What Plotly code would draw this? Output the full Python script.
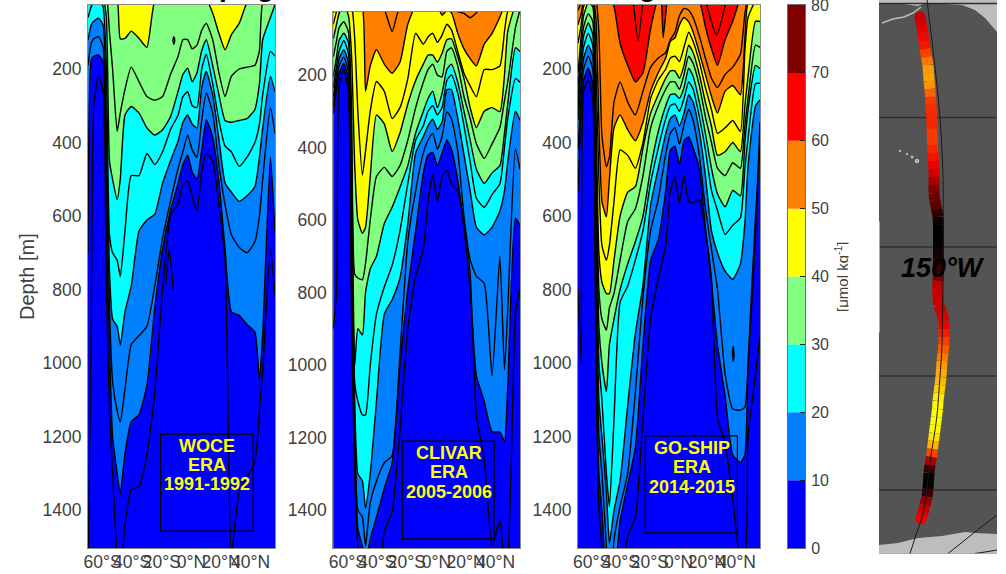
import plotly.graph_objects as go
from plotly.colors import sample_colorscale

W, H = 1006, 574

lats = [-69.8,-67.6,-65.9,-62.7,-59.6,-57.4,-55.3,-53.2,-50.1,-48,-44.8,-40.6,-35.3,-30,-24.7,-19.4,-14.1,-8.9,-5.7,-2.5,0.6,3.8,7,10.1,14.4,18.6,22.8,27,32.3,37.6,42.9,46,48.2,53.4,56.5]

# Depth [m] of each concentration isoline, by latitude
woce_05 = [1600,900,300,219,260,800,1120,1300,1530,1600,1440,1345,1335,1250,1080,800,600,565,515,505,547,585,480,430,450,570,720,1520,1350,1310,1270,1130,1020,690,815]
woce_10 = [700,175,165,162,180,650,950,1200,1300,1355,1245,1160,1140,1060,850,690,585,510,460,435,480,500,420,338,385,505,690,860,870,895,915,1046,920,440,647]
woce_15 = [190,130,118,112,140,500,850,1050,1130,1160,1070,950,925,900,790,660,560,470,425,380,420,440,340,265,320,460,570,650,685,700,670,600,500,305,375]
woce_20 = [121,80,70,62,80,350,750,880,900,951,860,790,640,611,595,510,450,395,345,325,350,360,250,207,270,390,510,535,560,545,520,440,360,220,262]
woce_25 = [60,30,15,10,30,200,650,700,720,765,640,490,490,430,460,425,365,325,275,262,300,305,200,160,240,340,410,425,465,440,400,350,270,152,165]
woce_30 = [15,10,8,5,10,60,450,500,555,500,325,302,320,360,380,365,330,260,215,198,235,210,150,120,190,270,340,345,340,335,310,240,120,60,25]
woce_35 = [5,5,5,5,5,5,100,200,370,320,255,195,235,275,285,275,215,165,120,120,145,135,95,76,120,210,275,220,200,195,190,150,20,5,3]
woce_40 = [5,5,5,5,5,5,5,5,10,118,117,97,117,141,15,5,5,5,5,5,5,5,5,10,48,103,148,107,76,20,5,5,5,5,5]

clivar_05 = [900,800,230,184,250,900,1300,1500,1600,1650,1650,1650,1460,1405,1180,900,755,680,545,476,549,480,462,500,520,610,750,1140,1260,1500,1430,1550,1530,860,788]
clivar_10 = [306,235,195,168,215,800,1200,1450,1500,1550,1480,1420,1340,1270,1000,790,630,470,420,414,450,415,379,405,490,620,790,1030,1100,1184,1185,1210,1060,595,615]
clivar_15 = [285,215,175,150,190,700,1150,1400,1420,1500,1380,1320,1270,1250,970,660,520,415,380,361,405,370,301,320,410,590,710,755,775,1030,700,1014,850,405,460]
clivar_20 = [260,195,155,130,165,600,1100,1300,1320,1395,1300,1100,860,820,760,610,415,370,340,322,350,330,240,240,320,420,520,620,641,620,575,520,440,300,325]
clivar_25 = [235,175,135,105,140,500,1050,1100,1138,1138,1000,860,785,725,630,500,380,340,300,285,310,290,215,200,250,340,440,540,565,530,500,400,320,210,220]
clivar_30 = [205,150,105,85,110,400,1000,900,917,800,735,700,610,565,510,450,360,300,265,245,290,250,185,170,220,300,380,460,499,470,450,360,280,125,135]
clivar_35 = [150,105,70,53,80,300,750,760,765,720,600,480,455,480,450,380,290,220,185,170,200,205,135,125,175,260,320,390,430,390,345,270,220,70,20]
clivar_40 = [100,60,30,10,35,150,450,600,637,620,480,310,335,411,360,280,215,170,145,145,165,140,103,100,150,210,290,345,300,290,301,200,80,10,5]
clivar_45 = [60,25,10,5,5,10,100,300,476,410,300,218,245,320,290,210,85,115,95,85,110,90,60,75,135,195,230,260,185,185,175,80,25,5,3]
clivar_50 = [28,8,5,5,5,5,8,10,15,245,175,130,170,195,165,60,10,10,10,10,10,35,22,28,85,128,155,175,115,85,40,10,5,5,3]
clivar_55 = [5,5,5,5,5,5,5,5,5,5,5,5,20,80,10,5,5,5,5,5,5,5,5,5,25,30,42,28,5,5,5,5,5,5,5]

goship_05 = [800,1000,260,230,280,1000,1400,1500,1650,1700,1700,1650,1470,1420,1150,878,770,680,530,495,565,490,560,565,555,640,770,1150,1220,1370,1530,1530,1200,1030,925]
goship_10 = [534,300,230,198,240,900,1300,1400,1600,1650,1600,1430,1330,1230,950,720,665,530,420,410,460,395,385,415,470,630,780,950,1090,1250,1270,1250,1000,600,411]
goship_15 = [420,270,200,165,200,800,1200,1300,1500,1650,1480,1390,1300,1080,820,640,555,430,375,360,405,350,310,340,435,580,690,800,1030,1125,1128,1120,1015,650,345]
goship_20 = [339,235,170,135,165,700,1100,1200,1350,1490,1400,1320,1115,920,788,570,470,375,335,325,355,320,270,290,370,490,640,700,750,772,730,620,465,300,284]
goship_25 = [310,200,140,103,135,600,1000,1100,1300,1391,1150,835,790,720,640,510,415,335,300,295,315,280,235,255,330,420,530,585,650,625,605,470,390,240,239]
goship_30 = [284,170,110,75,105,500,900,1000,1078,950,880,800,730,670,600,470,370,300,270,268,280,250,198,220,290,375,470,540,575,530,545,400,310,190,199]
goship_35 = [250,140,85,50,70,400,800,880,910,850,810,720,615,580,490,360,300,255,235,235,255,215,165,185,245,330,400,470,490,455,470,355,280,135,141]
goship_40 = [212,110,55,20,30,300,700,780,811,811,720,600,535,520,415,320,270,225,205,205,225,190,135,155,215,290,355,435,425,400,425,300,220,70,71]
goship_45 = [130,80,30,8,10,180,500,680,720,680,560,420,435,470,400,280,230,200,170,165,180,140,100,125,180,250,310,375,360,340,370,150,60,15,12]
goship_50 = [80,50,15,5,5,60,350,560,602,500,360,325,365,395,345,260,210,170,125,115,80,60,72,100,155,215,275,320,260,245,270,120,20,10,8]
goship_55 = [40,20,5,5,3,10,100,380,466,440,290,235,290,325,260,195,170,155,120,100,55,35,40,60,110,170,225,250,215,195,160,50,8,5,3]
goship_60 = [5,5,5,5,5,5,5,5,5,5,30,130,190,235,210,90,10,10,10,10,10,10,10,10,15,85,145,190,120,70,10,5,5,5,5]

# Small separate contour pieces: latitudes, depths
woce_oval_lat = [-12.46,-11.82,-11.19,-11.82,-12.46]
woce_oval_dep = [122,112,122,133,122]
woce_lobe_lat = [-17.4,-15,-12.2]
woce_lobe_dep = [790,692,800]
goship_oval_lat = [37.4,37.9,38.45,37.9,37.4]
goship_oval_dep = [975,955,975,995,975]
goship_strip_lat = [-11.8,-10.7,-7.9]
goship_strip_dep = [10,115,10]
goship_lobe1_lat = [-31.6,-28.1,-24.6]
goship_lobe1_dep = [10,123,10]
goship_lobe2_lat = [18.4,26.4,33.3]
goship_lobe2_dep = [10,108,10]

x_tick_vals = [-60,-40,-20,0,20,40]
x_tick_text = ["60°S","40°S","20°S","0°N","20°N","40°N"]
y_tick_vals = [200,400,600,800,1000,1200,1400]

fill_colors = {10:"#0080ff",20:"#00ffff",30:"#80ff80",40:"#ffff00",50:"#ff8000",60:"#ff0000"}

cb_base = [0,10,20,30,40,50,60,70]
cb_height = [10,10,10,10,10,10,10,10]
cb_colors = ["#0000ff","#0080ff","#00ffff","#80ff80","#ffff00","#ff8000","#ff0000","#800000"]
cb_ticks = [0,10,20,30,40,50,60,70,80]

# Map panel
land_n_x = [879,997,997,985,975,962,935,925,918,900,879]
land_n_y = [0,0,32,18,10,5,3.5,3.5,6,3.5,3.5]
spit_x = [882,893,904,913,921]
spit_y = [23,19,17,13,7]
land_s_x = [879,898,918,942,965,975,997,997,879]
land_s_y = [545,543,538,536,532,533,534,553.5,553.5]
isle_x = [900,907,912,917]
isle_y = [151,154,157,161]
parallels = [3.5,117.5,247,376,490]
track_y = [17,25,33,41,49,57,65,73,81,89,97,105,113,121,129,137,145,153,161,169,177,185,193,201,209,217,225,233,241,249,257,265,273,281,289,297,305,313,321,329,337,345,353,361,369,377,385,393,401,409,417,425,433,441,449,457,465,473,481,489,497,505,513,519]
track_x = [920,921.5,923,924,925,926.5,928,928.5,929,930,930.5,931,931.5,932,932,932.5,932.5,933,933.5,934,934,934,934,935,936.5,938,938.5,938.5,938.5,938.5,938.5,938.5,938.5,938,937.5,938,938.5,942,944,944,944,944,943,942,941.5,941,940,939,938,937.5,936.5,935.5,934.5,933.5,932.5,931.5,930,929,928.5,928,927,925,923,921]
track_v = [.42,.45,.5,.52,.56,.66,.75,.8,.78,.72,.62,.58,.58,.56,.58,.62,.58,.55,.52,.47,.38,.28,.22,.2,.15,.05,0,0,0,.03,.06,.08,.15,.35,.42,.42,.42,.42,.48,.52,.58,.64,.68,.74,.8,.82,.86,.92,.97,1,1,1,.97,.9,.75,.5,.2,.02,0,.02,.2,.4,.42,.5]
track_scale = [[0,"#000000"],[.25,"#800000"],[.5,"#f00000"],[.75,"#ff9000"],[1,"#ffff00"]]
meridian_x = [927,930,935,940,942.7,943.3,942.7,941.7,940,936.7,930,923.3,915,910]
meridian_y = [0,25,67,118,167,215,305,352,376,418,462,512,538,553.5]
arc1_x = [948,965,980,997]
arc1_y = [553.5,540,528,515]
arc2_x = [975,985,997]
arc2_y = [553.5,552,550]

panels = [
    dict(sfx="", x0=88, x1=275, top=5, bot=548, yr=[1503,25.9],
         rows=[(5,woce_05),(10,woce_10),(15,woce_15),(20,woce_20),(25,woce_25),(30,woce_30),(35,woce_35),(40,woce_40)]),
    dict(sfx="2", x0=333.3, x1=520, top=12, bot=548, yr=[1505,26.2],
         rows=[(5,clivar_05),(10,clivar_10),(15,clivar_15),(20,clivar_20),(25,clivar_25),(30,clivar_30),(35,clivar_35),(40,clivar_40),(45,clivar_45),(50,clivar_50),(55,clivar_55)]),
    dict(sfx="3", x0=578, x1=760, top=5, bot=548, yr=[1503,25.9],
         rows=[(5,goship_05),(10,goship_10),(15,goship_15),(20,goship_20),(25,goship_25),(30,goship_30),(35,goship_35),(40,goship_40),(45,goship_45),(50,goship_50),(55,goship_55),(60,goship_60)]),
]

fig = go.Figure()
layout = {}
TXT = "#404040"
FONT = "Liberation Sans"
LW = 1.4

def dom_x(a, b):
    return [a / W, b / W]

def dom_y(t, b):
    return [1 - b / H, 1 - t / H]

for i, p in enumerate(panels):
    s = p["sfx"]
    xa, ya = "x" + s, "y" + s
    for lev, dep in p["rows"]:
        if lev in fill_colors:
            fig.add_trace(go.Scatter(x=lats, y=dep, xaxis=xa, yaxis=ya, mode="lines", fill="tozeroy",
                                     fillcolor=fill_colors[lev], line=dict(width=0, shape="spline", smoothing=0.5),
                                     showlegend=False, hoverinfo="skip"))
    for lev, dep in p["rows"]:
        fig.add_trace(go.Scatter(x=lats, y=dep, xaxis=xa, yaxis=ya, mode="lines",
                                 line=dict(color="black", width=LW, shape="spline", smoothing=0.5),
                                 showlegend=False, hoverinfo="skip"))
    layout["xaxis" + s] = dict(domain=dom_x(p["x0"], p["x1"]), range=[-69.8, 56.5], anchor=ya,
                               tickmode="array", tickvals=x_tick_vals, ticktext=x_tick_text, tickangle=0,
                               ticks="", ticklabelstandoff=-2, showgrid=False, zeroline=False,
                               showline=True, mirror=True, linecolor="#8a8a8a", linewidth=1,
                               tickfont=dict(family=FONT, size=17.5, color=TXT))
    layout["yaxis" + s] = dict(domain=dom_y(p["top"], p["bot"]), range=p["yr"], anchor=xa,
                               tickmode="array", tickvals=y_tick_vals, ticks="", ticklabelstandoff=2,
                               showgrid=False, zeroline=False, showline=True, mirror=True,
                               linecolor="#8a8a8a", linewidth=1,
                               tickfont=dict(family=FONT, size=17.5, color=TXT))

shapes = []
for p in panels:
    s = p["sfx"]
    shapes.append(dict(type="rect", layer="below", xref="x%s domain" % s, yref="y%s domain" % s,
                       x0=0, x1=1, y0=0, y1=1, fillcolor="#0000ff", line=dict(width=0)))

def extra(lat, dep, xa, ya, fill=None):
    fig.add_trace(go.Scatter(x=lat, y=dep, xaxis=xa, yaxis=ya, mode="lines",
                             fill="tozeroy" if fill else None, fillcolor=fill,
                             line=dict(color="black", width=LW, shape="spline", smoothing=0.5),
                             showlegend=False, hoverinfo="skip"))

extra(woce_oval_lat, woce_oval_dep, "x", "y")
extra(woce_lobe_lat, woce_lobe_dep, "x", "y")
extra(goship_oval_lat, goship_oval_dep, "x3", "y3")
extra(goship_strip_lat, goship_strip_dep, "x3", "y3", fill="#ff0000")
extra(goship_lobe1_lat, goship_lobe1_dep, "x3", "y3")
extra(goship_lobe2_lat, goship_lobe2_dep, "x3", "y3")

boxes = [
    dict(s="", x0=-20.8, x1=41.7, d0=1193, d1=1457, xc=10.4, lines=[("WOCE",1225),("ERA",1278),("1991-1992",1329)]),
    dict(s="2", x0=-23.1, x1=39, d0=1210, d1=1480, xc=8.6, lines=[("CLIVAR",1243),("ERA",1295),("2005-2006",1350)]),
    dict(s="3", x0=-23.2, x1=40.8, d0=1198, d1=1462, xc=9, lines=[("GO-SHIP",1230),("ERA",1283),("2014-2015",1337)]),
]
annots = []
for b in boxes:
    shapes.append(dict(type="rect", layer="above", xref="x" + b["s"], yref="y" + b["s"],
                       x0=b["x0"], x1=b["x1"], y0=b["d0"], y1=b["d1"], line=dict(color="black", width=1.2)))
    for t, d in b["lines"]:
        annots.append(dict(xref="x" + b["s"], yref="y" + b["s"], x=b["xc"], y=d, text="<b>%s</b>" % t, showarrow=False,
                           font=dict(family=FONT, size=18, color="#ffff00")))

annots.append(dict(xref="paper", yref="paper", x=27 / W, y=1 - 277 / H, xanchor="center", yanchor="middle",
                   text="Depth [m]", textangle=-90, showarrow=False, font=dict(family=FONT, size=20, color=TXT)))

for ch, px in (("p", 227), ("g", 265), ("g", 647)):
    annots.append(dict(xref="paper", yref="paper", x=px / W, y=1 - 3 / H, xanchor="center", yanchor="bottom",
                       text="<b>%s</b>" % ch, showarrow=False, borderpad=0,
                       font=dict(family=FONT, size=28, color="black")))

fig.add_trace(go.Bar(x=[0] * len(cb_base), y=cb_height, base=cb_base, width=1, marker=dict(color=cb_colors, line=dict(width=0)),
                     xaxis="x4", yaxis="y4", showlegend=False, hoverinfo="skip"))
layout["xaxis4"] = dict(domain=dom_x(788, 805), range=[-0.5, 0.5], anchor="y4", showticklabels=False, ticks="",
                        showgrid=False, zeroline=False, showline=True, mirror=True, linecolor="#707070", linewidth=1)
layout["yaxis4"] = dict(domain=dom_y(5, 548), range=[0, 80], anchor="x4", side="right", tickmode="array", tickvals=cb_ticks[:-1],
                        ticks="inside", ticklen=5, tickcolor="#222222", showgrid=False, zeroline=False, showline=True,
                        mirror=True, linecolor="#707070", linewidth=1, ticklabelstandoff=2,
                        tickfont=dict(family=FONT, size=16, color=TXT))
annots.append(dict(xref="paper", yref="paper", x=820 / W, y=1 - 5 / H, xanchor="center", yanchor="middle", text=str(cb_ticks[-1]),
                   showarrow=False, borderpad=0, font=dict(family=FONT, size=16, color=TXT)))
annots.append(dict(xref="paper", yref="paper", x=842 / W, y=1 - 277 / H, xanchor="center", yanchor="middle",
                   text="[μmol kg<sup>-1</sup>]", textangle=-90, showarrow=False, font=dict(family=FONT, size=15, color=TXT)))
annots.append(dict(xref="paper", yref="paper", x=848 / W, y=1 - 277 / H, xanchor="left", yanchor="middle", text="&nbsp;",
                   width=30, height=110, showarrow=False, bgcolor="white", borderpad=0))

shapes.append(dict(type="rect", layer="below", xref="x5 domain", yref="y5 domain", x0=0, x1=1, y0=0, y1=1,
                   fillcolor="#545454", line=dict(width=0)))
def map_poly(xs, ys):
    fig.add_trace(go.Scatter(x=xs, y=ys, xaxis="x5", yaxis="y5", mode="lines", fill="toself", fillcolor="#bdbdbd",
                             line=dict(width=0), showlegend=False, hoverinfo="skip"))
map_poly(land_n_x, land_n_y)
map_poly(land_s_x, land_s_y)
fig.add_trace(go.Scatter(x=spit_x, y=spit_y, xaxis="x5", yaxis="y5", mode="lines",
                         line=dict(color="#bdbdbd", width=1.5), showlegend=False, hoverinfo="skip"))
fig.add_trace(go.Scatter(x=isle_x, y=isle_y, xaxis="x5", yaxis="y5", mode="markers",
                         marker=dict(size=[1.5, 1.5, 2, 3.5], color="#c8c8c8"), showlegend=False, hoverinfo="skip"))
for yy in parallels:
    fig.add_trace(go.Scatter(x=[879, 997], y=[yy, yy], xaxis="x5", yaxis="y5", mode="lines",
                             line=dict(color="#2e2e2e", width=1.3), showlegend=False, hoverinfo="skip"))
for k in range(len(track_x) - 1):
    col = sample_colorscale(track_scale, [(track_v[k] + track_v[k + 1]) / 2])[0]
    fig.add_trace(go.Scatter(x=track_x[k:k + 2], y=track_y[k:k + 2], xaxis="x5", yaxis="y5", mode="lines",
                             line=dict(color=col, width=11), showlegend=False, hoverinfo="skip"))
for k in (0, -1):
    col = sample_colorscale(track_scale, [track_v[k]])[0]
    fig.add_trace(go.Scatter(x=[track_x[k]], y=[track_y[k]], xaxis="x5", yaxis="y5", mode="markers",
                             marker=dict(size=11, color=col, line=dict(width=0)), showlegend=False, hoverinfo="skip"))
for xs, ys in ((meridian_x, meridian_y), (arc1_x, arc1_y), (arc2_x, arc2_y)):
    fig.add_trace(go.Scatter(x=xs, y=ys, xaxis="x5", yaxis="y5", mode="lines",
                             line=dict(color="#1a1a1a", width=1, shape="spline"), showlegend=False, hoverinfo="skip"))
layout["xaxis5"] = dict(domain=dom_x(879, 997), range=[879, 997], anchor="y5", visible=False)
layout["yaxis5"] = dict(domain=dom_y(0, 553.5), range=[553.5, 0], anchor="x5", visible=False)
annots.append(dict(xref="x5", yref="y5", x=943, y=268, text="<b><i>150°W</i></b>", showarrow=False,
                   font=dict(family=FONT, size=27, color="black")))

layout.update(width=W, height=H, margin=dict(l=0, r=0, t=0, b=0, autoexpand=False), paper_bgcolor="white", plot_bgcolor="white",
              showlegend=False, shapes=shapes, annotations=annots, barmode="overlay")
fig.update_layout(**layout)
fig.write_html("out.html", post_script="document.body.style.margin='0';", config={"displayModeBar": False})
